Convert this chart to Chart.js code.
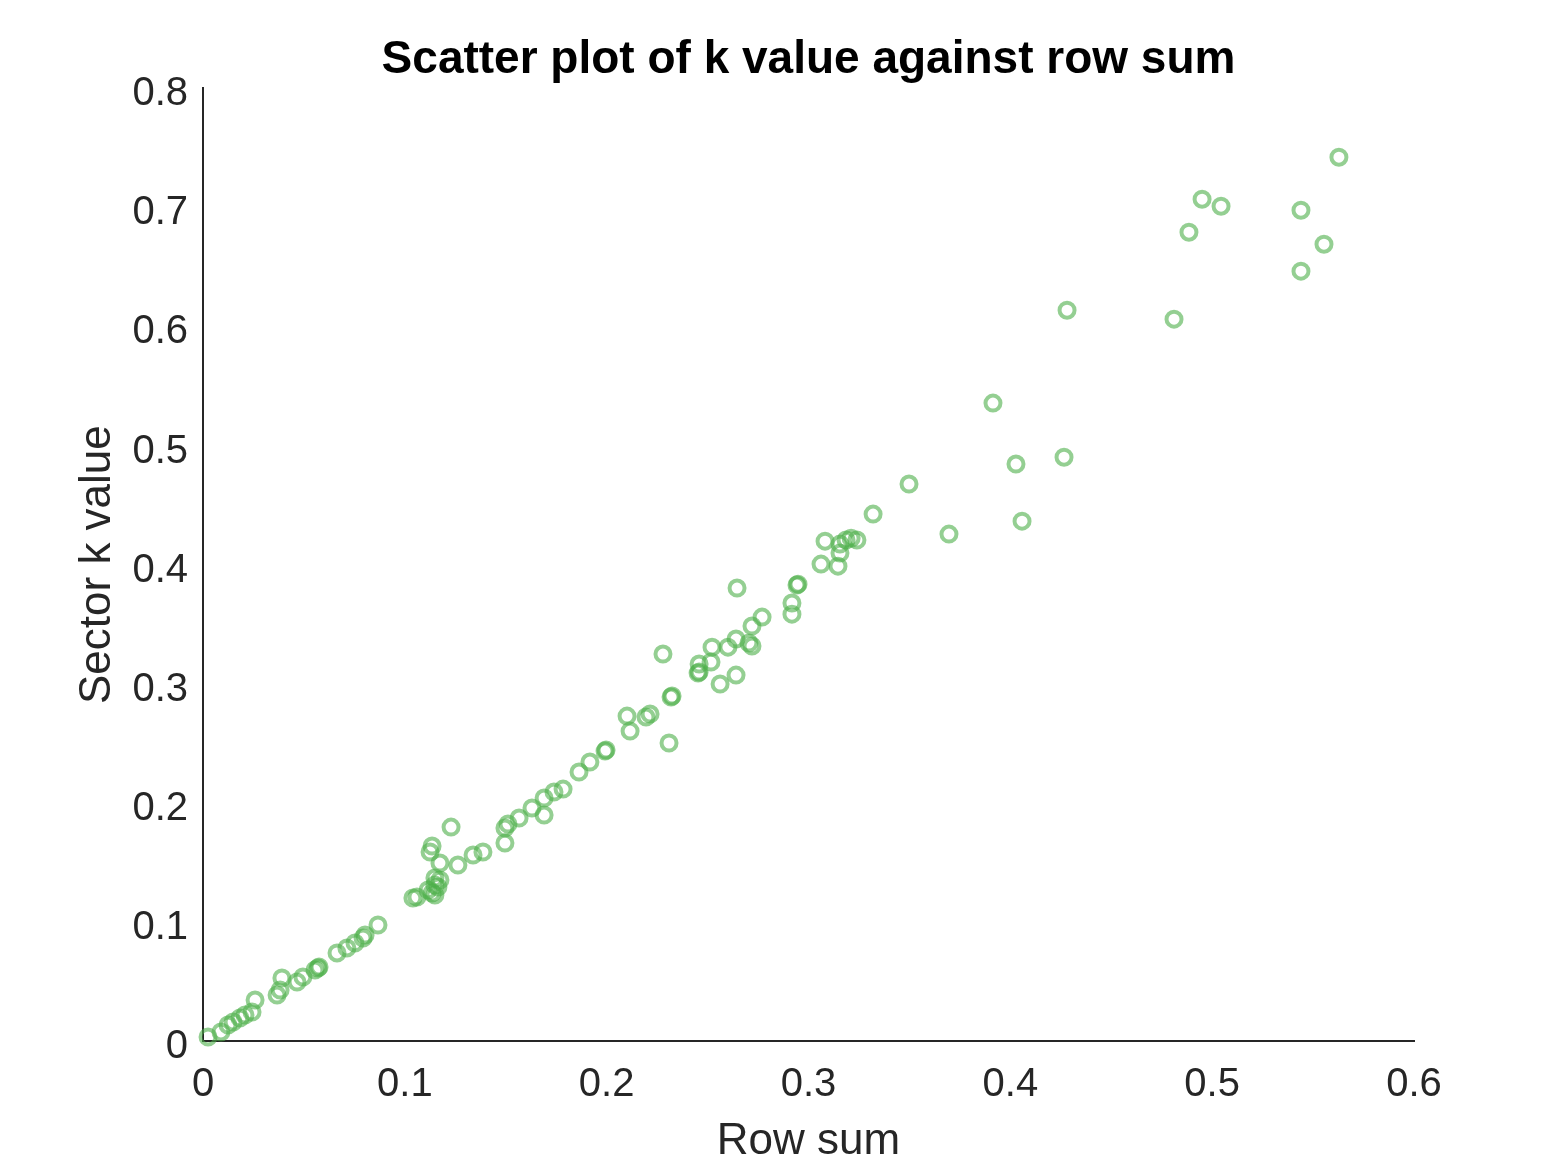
<!DOCTYPE html>
<html>
<head>
<meta charset="utf-8">
<script src="https://cdn.jsdelivr.net/npm/chart.js@4"></script>
<style>
  html, body { margin: 0; padding: 0; background: #ffffff; }
  #wrap { width: 1563px; height: 1172px; }
</style>
</head>
<body>
<div id="wrap"><canvas id="c" width="1563" height="1172"></canvas></div>
<script>
const chartTitle = "Scatter plot of k value against row sum";
const xAxisTitle = "Row sum";
const yAxisTitle = "Sector k value";
const xTickLabels = ["0", "0.1", "0.2", "0.3", "0.4", "0.5", "0.6"];
const yTickLabels = ["0", "0.1", "0.2", "0.3", "0.4", "0.5", "0.6", "0.7", "0.8"];

const rowSum = [
  0.0025, 0.0089, 0.0124, 0.0149, 0.0183, 0.0208, 0.0243, 0.0258, 0.0367, 0.0382,
  0.0391, 0.0466, 0.0495, 0.0555, 0.0570, 0.0575, 0.0664, 0.0713, 0.0753, 0.0793,
  0.0803, 0.0867, 0.1040, 0.1060, 0.1115, 0.1135, 0.1149, 0.1164, 0.1149, 0.1149,
  0.1174, 0.1135, 0.1125, 0.1174, 0.1229, 0.1263, 0.1338, 0.1387, 0.1496, 0.1496,
  0.1511, 0.1566, 0.1630, 0.1690, 0.1690, 0.1739, 0.1784, 0.1863, 0.1917, 0.1992,
  0.1997, 0.2101, 0.2116, 0.2195, 0.2215, 0.2279, 0.2309, 0.2319, 0.2324, 0.2453,
  0.2458, 0.2458, 0.2517, 0.2522, 0.2562, 0.2601, 0.2641, 0.2641, 0.2646, 0.2705,
  0.2720, 0.2720, 0.2770, 0.2918, 0.2918, 0.2943, 0.2948, 0.3062, 0.3146, 0.3082,
  0.3156, 0.3156, 0.3186, 0.3211, 0.3240, 0.3320, 0.3498, 0.3696, 0.3914, 0.4028,
  0.4058, 0.4266, 0.4281, 0.4811, 0.4885, 0.4950, 0.5044, 0.5440, 0.5440, 0.5554,
  0.5628
];
const kValue = [
  0.0034, 0.0076, 0.0134, 0.0159, 0.0193, 0.0218, 0.0243, 0.0344, 0.0386, 0.0428,
  0.0529, 0.0495, 0.0537, 0.0596, 0.0613, 0.0621, 0.0739, 0.0781, 0.0823, 0.0865,
  0.0890, 0.0974, 0.1200, 0.1209, 0.1268, 0.1242, 0.1226, 0.1293, 0.1310, 0.1368,
  0.1352, 0.1637, 0.1587, 0.1494, 0.1796, 0.1477, 0.1561, 0.1587, 0.1662, 0.1788,
  0.1822, 0.1872, 0.1956, 0.1897, 0.2040, 0.2090, 0.2115, 0.2258, 0.2342, 0.2434,
  0.2443, 0.2728, 0.2602, 0.2720, 0.2745, 0.3249, 0.2502, 0.2888, 0.2896, 0.3089,
  0.3098, 0.3165, 0.3182, 0.3307, 0.2997, 0.3307, 0.3375, 0.3072, 0.3803, 0.3341,
  0.3316, 0.3484, 0.3559, 0.3584, 0.3677, 0.3828, 0.3836, 0.4004, 0.3987, 0.4197,
  0.4097, 0.4172, 0.4206, 0.4222, 0.4206, 0.4424, 0.4676, 0.4256, 0.5356, 0.4844,
  0.4365, 0.4902, 0.6136, 0.6061, 0.6791, 0.7068, 0.7009, 0.6976, 0.6464, 0.6690,
  0.7421
];

const points = rowSum.map((x, i) => ({ x: x, y: kValue[i] }));
const FONT = "'Liberation Sans', Arial, Helvetica, sans-serif";
const TEXT = "#262626";

new Chart(document.getElementById("c"), {
  type: "scatter",
  data: {
    datasets: [{
      data: points,
      pointStyle: "circle",
      pointRadius: 7.5,
      pointHoverRadius: 7.5,
      pointBorderWidth: 4,
      pointHoverBorderWidth: 4,
      borderColor: "rgba(77,175,74,0.6)",
      backgroundColor: "rgba(0,0,0,0)",
      clip: false
    }]
  },
  options: {
    responsive: false,
    animation: false,
    devicePixelRatio: 1,
    layout: { padding: { left: 0, right: 149, top: 0, bottom: 0 } },
    plugins: {
      legend: { display: false },
      tooltip: { enabled: false },
      title: {
        display: true,
        text: chartTitle,
        fullSize: false,
        color: "#000000",
        font: { family: FONT, size: 46, weight: "bold" },
        padding: { top: 33, bottom: 0 }
      }
    },
    scales: {
      x: {
        type: "linear",
        min: 0, max: 0.6,
        grid: { display: false, drawTicks: false },
        border: { display: true, color: TEXT, width: 2 },
        ticks: {
          stepSize: 0.1,
          color: TEXT,
          padding: 20,
          font: { family: FONT, size: 40 },
          maxRotation: 0,
          callback: (v) => xTickLabels[Math.round(v * 10)]
        },
        title: {
          display: true, text: xAxisTitle, color: TEXT,
          font: { family: FONT, size: 44 },
          padding: { top: 0, bottom: 4 }
        },
        afterFit: (s) => { s.height = 131; }
      },
      y: {
        type: "linear",
        min: 0, max: 0.8,
        grid: { display: false, drawTicks: false },
        border: { display: true, color: TEXT, width: 2 },
        ticks: {
          stepSize: 0.1,
          color: TEXT,
          padding: 15,
          labelOffset: 6,
          font: { family: FONT, size: 40 },
          callback: (v) => yTickLabels[Math.round(v * 10)]
        },
        title: {
          display: true, text: yAxisTitle, color: TEXT,
          font: { family: FONT, size: 44 },
          padding: { top: 71, bottom: 0 }
        },
        afterFit: (s) => { s.width = 203; }
      }
    }
  }
});
</script>
</body>
</html>
